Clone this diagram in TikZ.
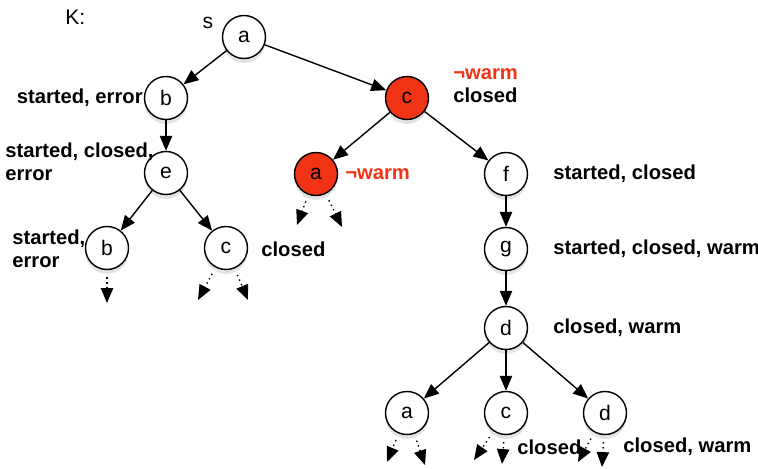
\documentclass[tikz,border=0pt]{standalone}
\usepackage{fontspec}
\setmainfont{Liberation Sans}
\usetikzlibrary{arrows.meta,shadows}
\definecolor{statered}{RGB}{242,52,22}
\tikzset{
  state/.style={circle, draw, line width=0.8pt, fill=white, minimum size=0.86cm, inner sep=0pt,
    font=\fontsize{12}{14}\selectfont,
    drop shadow={opacity=0.22, shadow xshift=0pt, shadow yshift=-2.5pt}},
  hot/.style={state, fill=statered},
  prop/.style={font=\bfseries\fontsize{11.5}{13}\selectfont, inner sep=0pt, align=left},
  trans/.style={->, line width=0.8pt},
  stub/.style={->, dotted, line width=0.8pt, shorten <=4pt},
}
\begin{document}
\begin{tikzpicture}[x=0.02cm, y=-0.02cm, >={Triangle[length=8.5pt,width=7pt]}]
    \useasboundingbox (0,0) rectangle (758,468);

    % Kripke structure
    \node[anchor=west, font=\fontsize{12}{14}\selectfont, inner sep=0pt] (title) at (65, 17) {K:};
    \node[font=\fontsize{12}{14}\selectfont, inner sep=0pt] (start) at (208, 23) {s};

    % states
    \node[state] (a0) at (244, 37) {a};
    \node[state] (b1) at (166, 98) {b};
    \node[hot]   (c1) at (407, 98) {c};
    \node[state] (e)  at (166, 173) {e};
    \node[hot]   (a2) at (316, 174) {a};
    \node[state] (f)  at (506, 174) {f};
    \node[state] (b2) at (107, 248) {b};
    \node[state] (c2) at (226, 248) {c};
    \node[state] (g)  at (506, 249) {g};
    \node[state] (d1) at (506, 328) {d};
    \node[state] (a3) at (407, 413) {a};
    \node[state] (c3) at (506, 413) {c};
    \node[state] (d2) at (605, 413) {d};

    % labels
    \node[prop, anchor=east] (lb1) at (143, 98) {started, error};
    \node[prop, anchor=west] (lc1) at (453, 86) {\textcolor{statered}{¬warm}\\closed};
    \node[prop, anchor=west] (le)  at (5, 162) {started, closed,\\error};
    \node[prop, anchor=west, text=statered] (la2) at (345, 174) {¬warm};
    \node[prop, anchor=west] (lb2) at (12, 249) {started,\\error};
    \node[prop, anchor=west] (lc2) at (261, 249) {closed};
    \node[prop, anchor=west] (lf)  at (553, 174) {started, closed};
    \node[prop, anchor=west] (lg)  at (553, 249) {started, closed, warm};
    \node[prop, anchor=west] (ld1) at (553, 328) {closed, warm};
    \node[prop, anchor=west] (lc3) at (517, 447) {closed};
    \node[prop, anchor=west] (ld2) at (623, 447) {closed, warm};

    % transitions
    \draw[trans] (a0) -- (b1);
    \draw[trans] (a0) -- (c1);
    \draw[trans] (b1) -- (e);
    \draw[trans] (c1) -- (a2);
    \draw[trans] (c1) -- (f);
    \draw[trans] (e) -- (b2);
    \draw[trans] (e) -- (c2);
    \draw[trans] (f) -- (g);
    \draw[trans] (g) -- (d1);
    \draw[trans] (d1) -- (a3);
    \draw[trans] (d1) -- (c3);
    \draw[trans] (d1) -- (d2);

    % unfolding continues
    \coordinate (b2x) at (107, 303);
    \coordinate (c2l) at (198, 300);
    \coordinate (c2r) at (248, 300);
    \coordinate (a2l) at (297, 225);
    \coordinate (a2r) at (342, 227);
    \coordinate (a3l) at (387, 462);
    \coordinate (a3r) at (425, 465);
    \coordinate (c3l) at (474, 460);
    \coordinate (c3r) at (502, 464);
    \coordinate (d2l) at (578, 462);
    \coordinate (d2r) at (602, 467);
    \draw[stub] (b2) -- (b2x);
    \draw[stub] (c2) -- (c2l);
    \draw[stub] (c2) -- (c2r);
    \draw[stub] (a2) -- (a2l);
    \draw[stub] (a2) -- (a2r);
    \draw[stub] (a3) -- (a3l);
    \draw[stub] (a3) -- (a3r);
    \draw[stub] (c3) -- (c3l);
    \draw[stub] (c3) -- (c3r);
    \draw[stub] (d2) -- (d2l);
    \draw[stub] (d2) -- (d2r);
\end{tikzpicture}
\end{document}
